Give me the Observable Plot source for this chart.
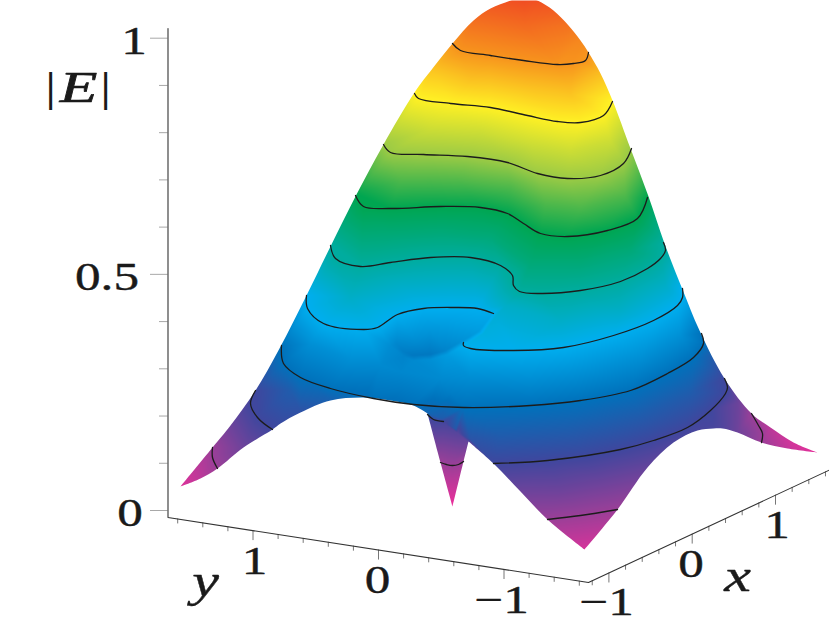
<!DOCTYPE html>
<html>
<head>
<meta charset="utf-8">
<style>html,body{margin:0;padding:0;background:#fff;overflow:hidden}svg{display:block}</style>
<script src="https://cdn.jsdelivr.net/npm/d3@7"></script>
<script src="https://cdn.jsdelivr.net/npm/@observablehq/plot@0.6"></script>
</head>
<body>
<script>
// colour ramp of |E|
const colorLevels = [0, 0.1, 0.2, 0.3, 0.4, 0.5, 0.6, 0.7, 0.8, 0.9, 1];
const colorStops = ["#ee2f9b","#9b3f98","#3f479e","#0072bc","#00aeef","#00ac9f","#00a651","#9ccb45","#fff124","#f7941d","#ef4023"];

// contour lines, in projected picture coordinates
const contour90 = [[452,43],[460,50],[490,55],[523,60],[557,64],[573,63],[585,60],[588,52]];
const contour80 = [[414,93],[418,98],[450,103],[490,107],[527,115],[557,121],[580,122],[603,115],[612,101]];
const contour70 = [[383,144],[390,152],[423,154],[467,156],[507,162],[537,173],[567,178],[600,175],[623,163],[631,148]];
const contour60 = [[355,195],[363,206],[390,208],[440,206],[480,207],[507,213],[523,223],[540,233],[567,236],[607,230],[637,218],[647,197]];
const contour50 = [[330,245],[335,258],[360,266],[390,262],[430,257],[470,257],[500,265],[512,275],[513,285],[519,291],[540,293],[580,290],[620,281],[647,268],[660,258],[665,250],[663,242]];
const contour40a = [[306,295],[307,308],[323,323],[363,329],[377,327],[397,314],[423,308],[453,307],[477,308],[493,313]];
const contour40b = [[463,342],[463,345],[470,348],[513,350],[563,347],[613,335],[653,320],[677,305],[682,297],[682,288]];
const contour30 = [[281,345],[283,363],[300,377],[330,388],[373,398],[413,404],[463,407],[530,405],[580,400],[630,390],[667,373],[693,357],[703,343],[701,333]];
const contour20a = [[255,390],[250,403],[257,417],[272,429]];
const contour20b = [[427,414],[433,419],[443,421]];
const contour20c = [[493,463],[547,460],[620,449],[653,440],[687,427],[710,410],[725,393],[727,387],[724,378]];
const contour10a = [[212,447],[212,457],[217,468]];
const contour10b = [[440,462],[446,464],[452,465],[458,464],[463,461]];
const contour10c = [[547,519],[580,515],[617,509]];
const contour10d = [[751,413],[758,425],[762,433],[761,442]];
const contourLines = [
  [0.9, contour90],[0.8, contour80],[0.7, contour70],[0.6, contour60],[0.5, contour50],
  [0.4, contour40a],[0.4, contour40b],[0.3, contour30],[0.2, contour20a],[0.2, contour20b],
  [0.2, contour20c],[0.1, contour10a],[0.1, contour10b],[0.1, contour10c],[0.1, contour10d]
];

// rows of surface colour read between the contour lines
const between85 = [[470,80,.85],[530,88,.85],[570,93,.85]];
const between75 = [[430,128,.75],[480,131,.75],[530,143,.75],[570,150,.75],[610,140,.75]];
const between65 = [[400,180,.65],[460,181,.65],[510,187,.65],[545,203,.65],[580,207,.65],[625,195,.65]];
const between55 = [[390,235,.55],[440,232,.55],[490,236,.55],[510,250,.55],[530,263,.55],[580,263,.55],[630,250,.55]];
const between45 = [[350,297,.45],[400,285,.45],[450,282,.45],[505,305,.45],[560,320,.45],[620,310,.45],[665,285,.45]];
const between35 = [[310,343,.35],[350,358,.35],[380,365,.34],[400,372,.335],[440,378,.34],[470,378,.345],[530,378,.35],[590,370,.35],[640,357,.35],[680,335,.35]];
const between31 = [[400,388,.315],[450,392,.32]];
const between25 = [[290,390,.25],[500,435,.25],[570,430,.25],[640,415,.25],[690,392,.25],[712,355,.25]];
const between15 = [[560,490,.15],[600,483,.15],[738,403,.15]];

// outline of the surface, [x, y, |E|], split at its sharp corners
const edgeRight = [[523,-4,.99],[537,0,.98],[553,10,.965],[568,25,.94],[580,40,.915],[588,52,.9],[600,73,.855],[612,100,.8],[630,148,.7],[648,196,.6],[664,243,.5],[682,289,.4],[699,330,.31],[724,378,.2],[751,413,.1],[770,427,.06],[793,442,.03],[817,452,.01]];
const edgeFrontRight = [[817,452,.01],[787,448,.05],[761,442,.1],[737,432,.15],[722,428,.18],[713,428,.19],[697,430,.19],[673,442,.185],[647,467,.16],[617,509,.1],[584,549,.03]];
const edgeFrontLeft = [[584,549,.03],[547,519,.1],[520,491,.15],[493,463,.2],[468,441,.225]];
const edgeSpikeRight = [[468,441,.16],[463,461,.1],[452,506,0]];
const edgeSpikeLeft = [[452,506,0],[440,462,.1],[427,413,.2]];
const edgeArc = [[427,413,.27],[413,405,.285],[390,400,.295],[363,397,.29],[330,400,.26],[300,412,.225],[280,423,.21],[272,429,.2],[243,447,.15],[217,468,.1],[200,478,.06],[180,486,.02]];
const edgeLeft = [[180,486,.02],[212,447,.1],[230,425,.15],[255,390,.2],[279,348,.3],[306,295,.4],[330,246,.5],[356,194,.6],[383,144,.7],[414,92,.8],[432,68,.85],[452,43,.9],[473,20,.945],[490,8,.965],[510,0,.98],[523,-4,.99]];
const edges = [edgeRight, edgeFrontRight, edgeFrontLeft, edgeSpikeRight, edgeSpikeLeft, edgeArc, edgeLeft];

// values either side of the fold over the spike
const foldSpikeSide = [[445,423,.19],[457,432,.175],[466,440,.16]];
const foldBodySide = [[441,418,.25],[455,429,.24],[470,439,.23]];
// the dip and the rim that hides part of it
const dipInside = [[491,315,.39],[478,331,.37],[461,341,.35],[445,350,.33],[430,354,.31],[413,355,.31],[403,351,.32],[396,343,.335],[430,330,.36],[450,320,.38],[415,340,.345]];
const dipOutside = [[495,316,.43],[483,333,.42],[470,341,.41],[447,354,.37],[430,359,.35],[413,360,.34],[403,356,.33],[390,345,.345]];
const crownPoints = [[525,25,.95]];

const surfacePoints = [
  ...contourLines.flatMap(([v, line]) => line.map(([x, y]) => ({x, y, v}))),
  ...[...edges.flat(), ...foldSpikeSide, ...foldBodySide, ...dipInside, ...dipOutside, ...crownPoints,
      ...between85, ...between75, ...between65, ...between55, ...between45, ...between35, ...between31, ...between25, ...between15]
    .map(([x, y, v]) => ({x, y, v}))
];

const contourRows = contourLines.flatMap(([v, line], id) => line.map(([x, y]) => ({x, y, id})));

// white surround, with the surface outline as its hole
const surround = [[523,-40],[-40,-40],[-40,660],[870,660],[870,-40],[523,-40]];
const maskRows = [...surround, ...edges.flat()].map(([x, y]) => ({x, y}));

// axes
const zMajor = [0, 0.5, 1];
const zMinor = [0.1, 0.2, 0.3, 0.4, 0.6, 0.7, 0.8, 0.9];
const yMajor = [1, 0, -1];
const yMinor = [1.6, 1.4, 1.2, 0.8, 0.6, 0.4, 0.2, -0.2, -0.4, -0.6, -0.8, -1.2, -1.4, -1.6];
const xMajor = [-1, 0, 1];
const xMinor = [-1.2, -0.8, -0.6, -0.4, -0.2, 0.2, 0.4, 0.6, 0.8, 1.2, 1.4, 1.6];
const zPos = z => 510 - 472.3 * z;
const yAxisX = v => 378 - 125.5 * v;
const yAxisY = v => 517 + 0.155 * (yAxisX(v) - 168);
const xAxisX = v => 691.7 + 83.3 * v;
const xAxisY = v => 582 - 0.467 * (xAxisX(v) - 588);

const axisLines = [
  {id: 0, x: 167.5, y: 28}, {id: 0, x: 167.5, y: 517},
  {id: 0, x: 588, y: 582}, {id: 0, x: 829, y: 469.5}
];
const zTicks = [
  ...zMajor.map(z => ({x1: 150, x2: 167.5, y: zPos(z)})),
  ...zMinor.map(z => ({x1: 159, x2: 167.5, y: zPos(z)}))
];
const floorTicks = [
  ...yMajor.map(v => ({x: yAxisX(v), y1: yAxisY(v), y2: yAxisY(v) + 10})),
  ...yMinor.map(v => ({x: yAxisX(v), y1: yAxisY(v), y2: yAxisY(v) + 5})),
  ...xMajor.map(v => ({x: xAxisX(v), y1: xAxisY(v), y2: xAxisY(v) + 10})),
  ...xMinor.map(v => ({x: xAxisX(v), y1: xAxisY(v), y2: xAxisY(v) + 5}))
];

const tickLabels = [
  {t: "1", x: 133.5, y: 53}, {t: "0.5", x: 106.5, y: 289.5}, {t: "0", x: 129.5, y: 525.5},
  {t: "1", x: 254, y: 573}, {t: "0", x: 377, y: 592}, {t: "\u22121", x: 501, y: 612.5},
  {t: "\u22121", x: 606, y: 614}, {t: "0", x: 690.5, y: 576.5}, {t: "1", x: 776.5, y: 537}
];
const axisNames = [{t: "y", x: 205, y: 595}, {t: "x", x: 737, y: 590}];
const zName = [{t: "E", x: 78, y: 101}];
const zBars = [{t: "|", x: 50, y: 100}, {t: "|", x: 105, y: 100}];

const serif = "'Liberation Serif', 'Times New Roman', serif";
const ink = "#1a1a1a";

const chart = Plot.plot({
  width: 829,
  height: 623,
  margin: 0,
  x: {domain: [0, 829], range: [0, 829], axis: null},
  y: {domain: [0, 623], range: [0, 623], axis: null},
  color: {type: "linear", domain: colorLevels, range: colorStops},
  marks: [
    Plot.raster(surfacePoints, {x: "x", y: "y", fill: "v", interpolate: "barycentric", pixelSize: 1}),
    Plot.line(maskRows, {x: "x", y: "y", fill: "white", stroke: "none", curve: "catmull-rom"}),
    Plot.line(contourRows, {x: "x", y: "y", z: "id", stroke: "#1c1c1c", strokeWidth: 1.3, curve: "catmull-rom"}),
    Plot.ruleY(zTicks, {x1: "x1", x2: "x2", y: "y", stroke: "#a8a8a8", strokeWidth: 1}),
    Plot.ruleX(floorTicks, {x: "x", y1: "y1", y2: "y2", stroke: "#777", strokeWidth: 1}),
    Plot.line(axisLines, {x: "x", y: "y", z: "id", stroke: "#333", strokeWidth: 1.1}),
    Plot.text(tickLabels, {x: "x", y: "y", text: "t", lineAnchor: "bottom", fontFamily: serif, fontSize: 40, fill: ink, stroke: ink, strokeWidth: 0.4, className: "wide"}),
    Plot.text(axisNames, {x: "x", y: "y", text: "t", lineAnchor: "bottom", fontFamily: serif, fontStyle: "italic", fontSize: 47, fill: ink, stroke: ink, strokeWidth: 0.4, className: "wide"}),
    Plot.text(zName, {x: "x", y: "y", text: "t", lineAnchor: "bottom", fontFamily: serif, fontStyle: "italic", fontSize: 44, fill: ink, stroke: ink, strokeWidth: 0.7, className: "wider"}),
    Plot.text(zBars, {x: "x", y: "y", text: "t", lineAnchor: "bottom", fontFamily: serif, fontWeight: "bold", fontSize: 42, fill: ink})
  ]
});
document.body.appendChild(chart);
d3.select(chart).selectAll("g.wide text").attr("transform", function () {
  return this.getAttribute("transform") + " scale(1.28,1)";
});
d3.select(chart).selectAll("g.wider text").attr("transform", function () {
  return this.getAttribute("transform") + " scale(1.4,1)";
});
</script>
</body>
</html>
